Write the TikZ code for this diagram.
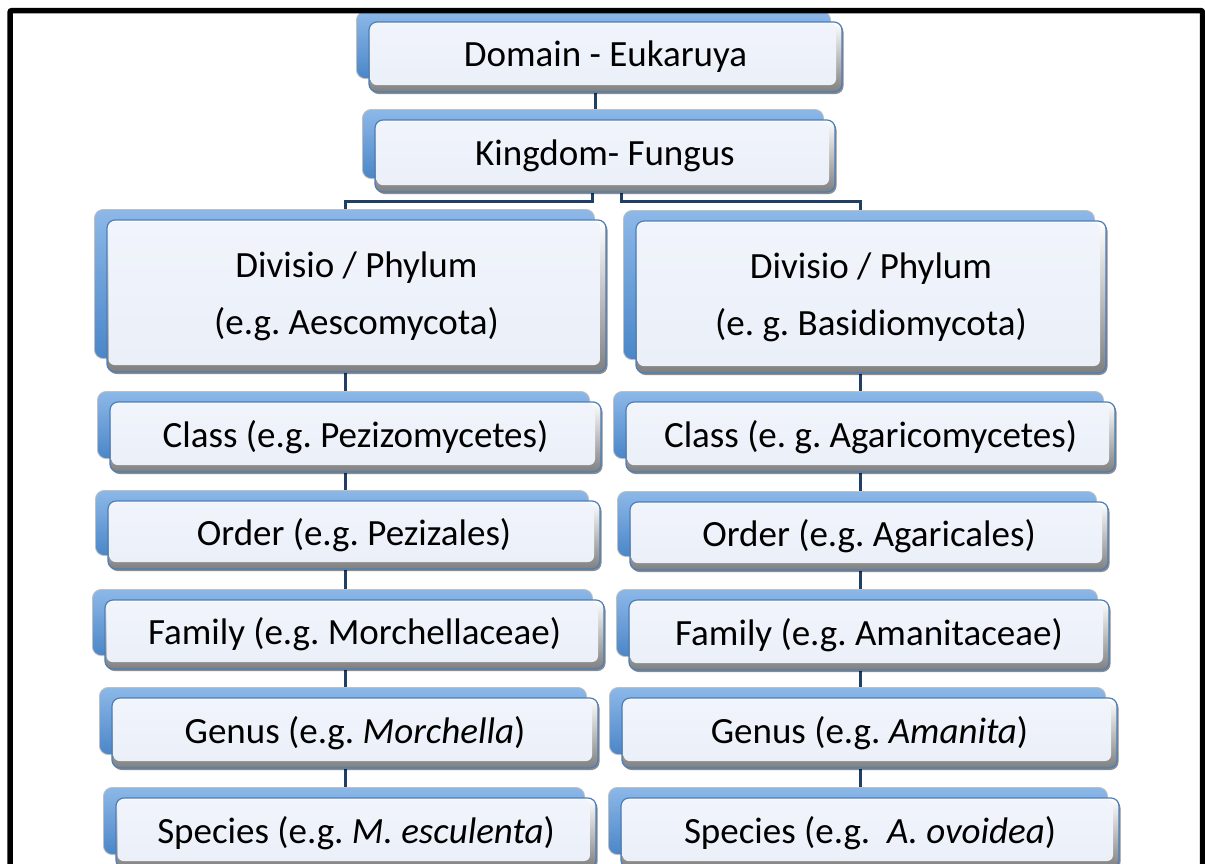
\documentclass[tikz,border=0pt]{standalone}
\usepackage{fontspec}
\setmainfont{Carlito}
\frenchspacing
\usetikzlibrary{shadows}
\pgfdeclarelayer{paper}
\pgfdeclarelayer{conlayer}
\pgfdeclarelayer{backlayer}
\pgfsetlayers{paper,conlayer,backlayer,main}
\definecolor{innertop}{HTML}{F1F4FB}
\definecolor{innerbot}{HTML}{EAEFF8}
\definecolor{outl}{HTML}{4A7EBB}
\definecolor{blueT}{HTML}{8DB8E8}
\definecolor{blueB}{HTML}{4A86C8}
\definecolor{connc}{HTML}{1F3F66}
\tikzset{
  tbox/.style={rounded corners=8pt, draw=outl, line width=1.2pt,
    top color=white, bottom color=black!50, inner sep=0pt, align=center,
    font=\fontsize{37}{57}\selectfont,
    drop shadow={shadow xshift=1.5pt, shadow yshift=-2pt, opacity=0.45, fill=black},
    path picture={\shade[rounded corners=6pt, top color=innertop, bottom color=innerbot]
      ([xshift=1.5pt,yshift=-1.5pt]path picture bounding box.north west) rectangle
      ([xshift=-6pt,yshift=7pt]path picture bounding box.south east);}},
  backbox/.style={rounded corners=9pt, top color=blueT, bottom color=blueB,
    draw=black!25, line width=0.8pt},
  conn/.style={draw=connc, line width=3pt},
  frame/.style={draw=black, line width=5.5pt, rounded corners=2pt}
}
\begin{document}
\begin{tikzpicture}[x=1pt,y=-1pt]
\useasboundingbox (0,0) rectangle (1205,863);
\begin{pgfonlayer}{paper}
\fill[white] (0,0) rectangle (1205,863);
\end{pgfonlayer}

\node[tbox, minimum width=473pt, minimum height=70pt] (dom) at (605.5,57) {Domain - Eukaruya};
\node[tbox, minimum width=460pt, minimum height=72pt] (king) at (605,156) {Kingdom- Fungus};
\node[tbox, minimum width=499pt, minimum height=152pt] (dl) at (356.5,296) {Divisio / Phylum\\(e.g. Aescomycota)};
\node[tbox, minimum width=470pt, minimum height=152pt] (dr) at (871,297) {Divisio / Phylum\\(e. g. Basidiomycota)};
\node[tbox, minimum width=491pt, minimum height=70pt] (cl) at (355.5,437) {Class (e.g. Pezizomycetes)};
\node[tbox, minimum width=489pt, minimum height=70pt] (cr) at (870.5,437) {Class (e. g. Agaricomycetes)};
\node[tbox, minimum width=492pt, minimum height=68pt] (orl) at (354,535) {Order (e.g. Pezizales)};
\node[tbox, minimum width=478pt, minimum height=68pt] (orr) at (869,536) {Order (e.g. Agaricales)};
\node[tbox, minimum width=499pt, minimum height=69pt] (fl) at (354.5,634.5) {Family (e.g. Morchellaceae)};
\node[tbox, minimum width=480pt, minimum height=70pt] (fr) at (869,635) {Family (e.g. Amanitaceae)};
\node[tbox, minimum width=486pt, minimum height=70pt] (gl) at (355,733) {Genus (e.g. \textit{Morchella})};
\node[tbox, minimum width=495pt, minimum height=70pt] (gr) at (869.5,733) {Genus (e.g. \textit{Amanita})};
\node[tbox, minimum width=480pt, minimum height=70pt] (sl) at (356,833) {Species (e.g. \textit{M. esculenta})};
\node[tbox, minimum width=498pt, minimum height=70pt] (sr) at (870,833) {Species (e.g.~ \textit{A. ovoidea})};

\begin{pgfonlayer}{backlayer}
\foreach \n in {dom,king,dl,dr,cl,cr,orl,orr,fl,fr,gl,gr,sl,sr}
  \path[backbox] ([xshift=-12pt,yshift=10pt]\n.north west) rectangle ([xshift=-12pt,yshift=14pt]\n.south east);
\end{pgfonlayer}

\coordinate (lx) at (345,0);
\coordinate (rx) at (860,0);
\coordinate (kc) at (595,0);
\coordinate (ka) at (592,0);
\coordinate (kb) at (621,0);
\coordinate (hy) at (0,201);
\begin{pgfonlayer}{conlayer}
\draw[conn] (dom.south -| kc) -- (king.north -| kc);
\draw[conn] (king.south -| ka) |- (hy -| lx) -- (dl.north -| lx);
\draw[conn] (king.south -| kb) |- (hy -| rx) -- (dr.north -| rx);
\draw[conn] (dl.south -| lx) -- (cl.north -| lx);
\draw[conn] (cl.south -| lx) -- (orl.north -| lx);
\draw[conn] (orl.south -| lx) -- (fl.north -| lx);
\draw[conn] (fl.south -| lx) -- (gl.north -| lx);
\draw[conn] (gl.south -| lx) -- (sl.north -| lx);
\draw[conn] (dr.south -| rx) -- (cr.north -| rx);
\draw[conn] (cr.south -| rx) -- (orr.north -| rx);
\draw[conn] (orr.south -| rx) -- (fr.north -| rx);
\draw[conn] (fr.south -| rx) -- (gr.north -| rx);
\draw[conn] (gr.south -| rx) -- (sr.north -| rx);
\end{pgfonlayer}

\draw[frame] (10,890) -- (10,10.5) -- (1202.5,10.5) -- (1202.5,890);
\end{tikzpicture}
\end{document}
